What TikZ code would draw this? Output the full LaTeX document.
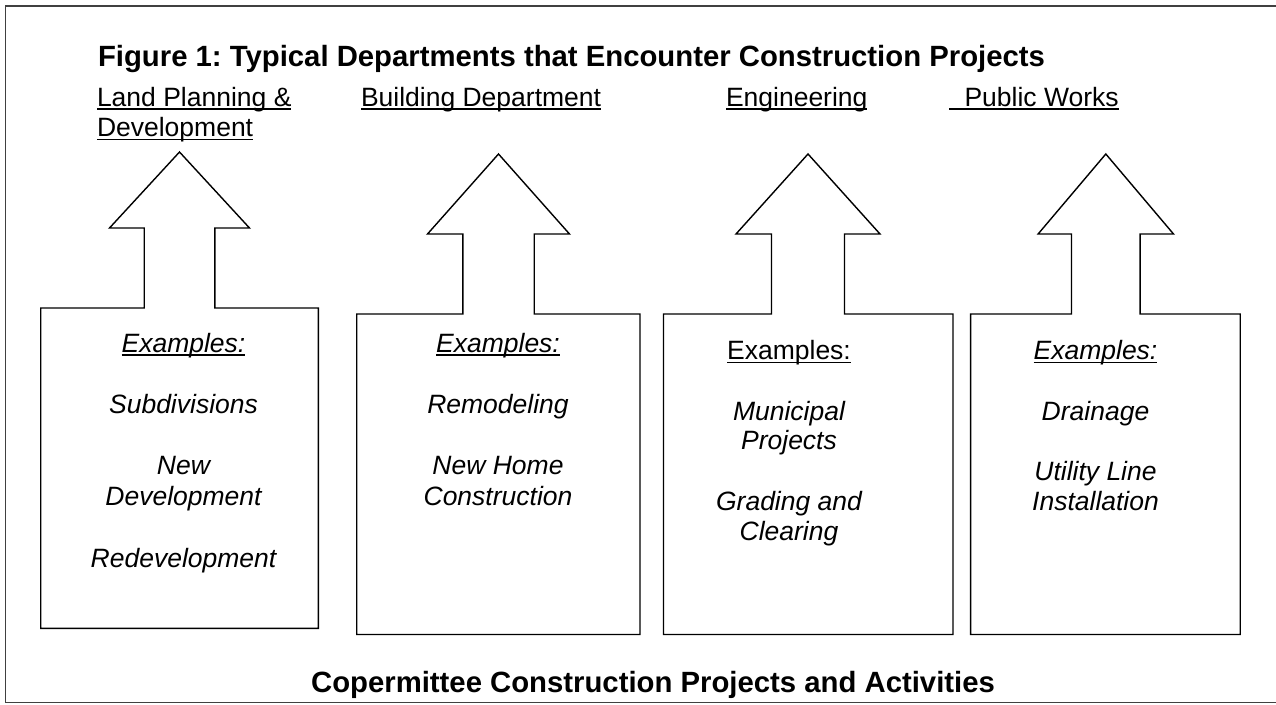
\documentclass[tikz,border=0pt]{standalone}
\usepackage{fontspec}
\setmainfont{Liberation Sans}
\usetikzlibrary{calc}
\frenchspacing

% outline of a box with a block arrow rising from its top edge
% #1 left  #2 right  #3 top  #4 bottom  #5 arrow centre
% #6 shaft half-width  #7 head half-width  #8 head base  #9 tip
\newcommand{\deptshape}[9]{%
  \draw[shapeline] (#1,#4) -- (#1,#3) -- ({#5-#6},#3) -- ({#5-#6},#8)
    -- ({#5-#7},#8) -- (#5,#9) -- ({#5+#7},#8) -- ({#5+#6},#8)
    -- ({#5+#6},#3) -- (#2,#3) -- (#2,#4) -- cycle;}
% underline a text node just below its baseline
\newcommand{\ulnode}[1]{%
  \draw[uline] ([yshift=-3pt]#1.base west) -- ([yshift=-3pt]#1.base east);}

\begin{document}
\begin{tikzpicture}[x=1pt,y=-1pt,
  txt/.style={inner sep=0pt, outer sep=0pt},
  titlefont/.style={txt, font=\fontsize{29.3}{32}\selectfont\bfseries},
  deptfont/.style={txt, font=\fontsize{26.5}{30.7}\selectfont},
  exfont/.style={txt, font=\fontsize{26.5}{30.7}\selectfont\itshape},
  shapeline/.style={draw=black, line width=1.4pt, line join=miter},
  uline/.style={line width=1.6pt},
  frameline/.style={draw=black!75, line width=1.3pt}]

\useasboundingbox (0,0) rectangle (1276,704);

% outer frame (open on the right)
\draw[frameline] (1276,6) -- (5.7,6) -- (5.7,702.5) -- (1276,702.5);

% heading and footer
\node[titlefont, anchor=base west] (title) at (98,66.7)
  {Figure 1: Typical Departments that Encounter Construction Projects};
\node[titlefont, anchor=base] (footer) at (653,692)
  {Copermittee Construction Projects and Activities};

% department names
\node[deptfont, anchor=base west] (d1a) at (97,106) {Land Planning \&};
\node[deptfont, anchor=base west] (d1b) at (97,136.5) {Development};
\node[deptfont, anchor=base west] (d2) at (361,106) {Building Department};
\node[deptfont, anchor=base west] (d3) at (726,106) {Engineering};
\node[deptfont, anchor=base west] (d4) at (964.5,106) {Public Works};
\ulnode{d1a}
\ulnode{d1b}
\ulnode{d2}
\ulnode{d3}
\draw[uline] ([xshift=-15.5pt,yshift=-3pt]d4.base west) -- ([yshift=-3pt]d4.base east);

% boxes with their arrows
\deptshape{40.7}{318.3}{308}{628.3}{179.5}{35.3}{70}{228}{152}
\deptshape{356.7}{640}{314}{634.5}{498.5}{35.7}{71}{234}{154}
\deptshape{663.5}{953}{314}{634.5}{808}{36.5}{72}{234}{154}
\deptshape{970.6}{1240.2}{314}{634.5}{1105.8}{34.3}{67.7}{234}{154}

% box 1
\node[exfont, anchor=base] (e1) at (183.5,352) {Examples:};
\ulnode{e1}
\node[exfont, anchor=base] (e1a) at (183.5,413) {Subdivisions};
\node[exfont, anchor=base] (e1b) at (183.5,474) {New};
\node[exfont, anchor=base] (e1c) at (183.5,505) {Development};
\node[exfont, anchor=base] (e1d) at (183.5,567) {Redevelopment};

% box 2
\node[exfont, anchor=base] (e2) at (498,352) {Examples:};
\ulnode{e2}
\node[exfont, anchor=base] (e2a) at (498,413) {Remodeling};
\node[exfont, anchor=base] (e2b) at (498,474) {New Home};
\node[exfont, anchor=base] (e2c) at (498,505) {Construction};

% box 3
\node[deptfont, anchor=base] (e3) at (789,359.5) {Examples:};
\ulnode{e3}
\node[exfont, anchor=base] (e3a) at (789,420) {Municipal};
\node[exfont, anchor=base] (e3b) at (789,449.5) {Projects};
\node[exfont, anchor=base] (e3c) at (789,510.5) {Grading and};
\node[exfont, anchor=base] (e3d) at (789,540) {Clearing};

% box 4
\node[exfont, anchor=base] (e4) at (1095.5,359.5) {Examples:};
\ulnode{e4}
\node[exfont, anchor=base] (e4a) at (1095.5,420) {Drainage};
\node[exfont, anchor=base] (e4b) at (1095.5,480.7) {Utility Line};
\node[exfont, anchor=base] (e4c) at (1095.5,510.5) {Installation};

\end{tikzpicture}
\end{document}
